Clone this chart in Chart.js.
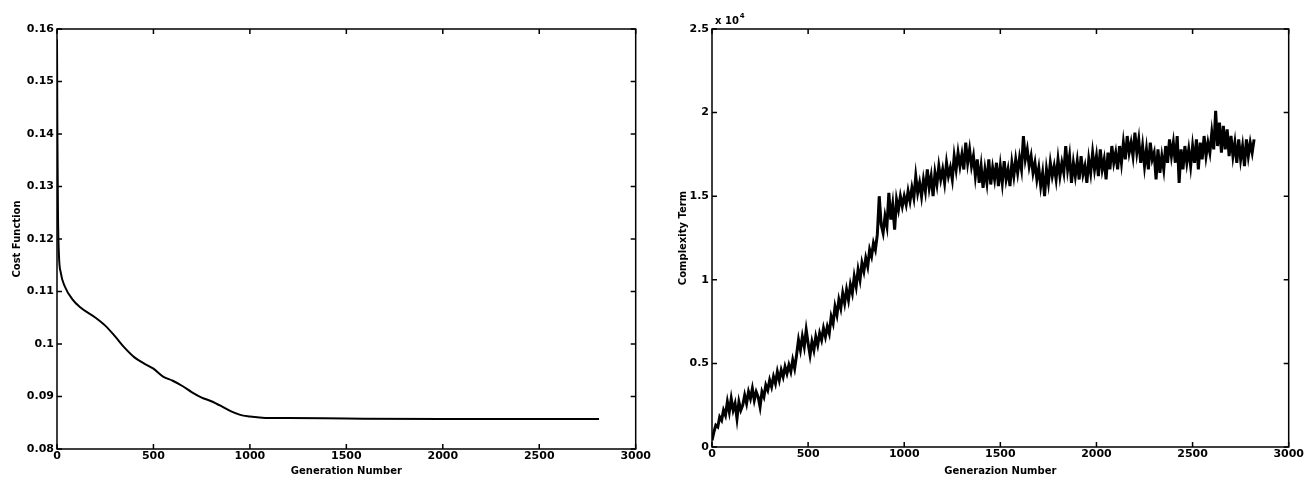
<!DOCTYPE html>
<html>
<head>
<meta charset="utf-8">
<script src="https://cdn.jsdelivr.net/npm/chart.js@4/dist/chart.umd.min.js"></script>
<style>
    body { margin: 0; background: #fff; }
    .wrap { position: absolute; top: 0; height: 478px; }
</style>
</head>
<body>
<div class="wrap" style="left:0;width:652px;"><canvas id="costChart" width="652" height="478"></canvas></div>
<div class="wrap" style="left:652px;width:653px;"><canvas id="complexChart" width="653" height="478"></canvas></div>
<script>
// left panel: cost function vs generation
const costGen = [0, 2, 5, 10, 20, 40, 80, 120, 200, 250, 300, 350, 400, 450, 500, 550, 600, 650, 700, 750, 800, 850, 900, 950, 1000, 1050, 1100, 1200, 1500, 2000, 2500, 2810];
const costVal = [0.158, 0.14, 0.125, 0.117, 0.1135, 0.111, 0.1085, 0.107, 0.105, 0.1035, 0.1015, 0.0993, 0.0975, 0.0963, 0.0953, 0.0938, 0.093, 0.092, 0.0908, 0.0898, 0.0891, 0.0882, 0.0872, 0.0865, 0.0862, 0.086, 0.0859, 0.0859, 0.0858, 0.0857, 0.0857, 0.0857];

// right panel: complexity term (x 10^4), one value every 10 generations
const complexityStep = 10;
const complexityVal = [
    0.04, 0.09, 0.13, 0.12, 0.18, 0.16, 0.22, 0.19, 0.27, 0.21,
    0.29, 0.22, 0.26, 0.17, 0.27, 0.22, 0.25, 0.31, 0.26, 0.33,
    0.29, 0.35, 0.28, 0.33, 0.30, 0.24, 0.33, 0.30, 0.37, 0.34,
    0.40, 0.36, 0.42, 0.38, 0.45, 0.40, 0.46, 0.42, 0.48, 0.44,
    0.49, 0.45, 0.52, 0.47, 0.55, 0.64, 0.58, 0.66, 0.60, 0.70,
    0.62, 0.55, 0.63, 0.58, 0.66, 0.61, 0.68, 0.64, 0.71, 0.66,
    0.72, 0.68, 0.78, 0.74, 0.84, 0.79, 0.88, 0.83, 0.92, 0.86,
    0.94, 0.88, 0.97, 0.92, 1.02, 0.96, 1.06, 1.00, 1.10, 1.05,
    1.13, 1.08, 1.18, 1.14, 1.22, 1.18, 1.27, 1.50, 1.33, 1.28,
    1.38, 1.32, 1.52, 1.36, 1.45, 1.30, 1.48, 1.42, 1.50, 1.44,
    1.50, 1.45, 1.53, 1.47, 1.55, 1.49, 1.62, 1.52, 1.58, 1.50,
    1.60, 1.53, 1.66, 1.55, 1.62, 1.50, 1.64, 1.57, 1.68, 1.60,
    1.66, 1.58, 1.70, 1.62, 1.67, 1.60, 1.74, 1.66, 1.76, 1.68,
    1.75, 1.66, 1.82, 1.70, 1.78, 1.68, 1.74, 1.62, 1.72, 1.58,
    1.68, 1.55, 1.66, 1.58, 1.72, 1.57, 1.67, 1.60, 1.70, 1.56,
    1.68, 1.58, 1.71, 1.60, 1.66, 1.56, 1.70, 1.62, 1.72, 1.64,
    1.73, 1.66, 1.86, 1.72, 1.78, 1.68, 1.74, 1.64, 1.70, 1.60,
    1.67, 1.56, 1.64, 1.50, 1.66, 1.58, 1.70, 1.62, 1.68, 1.60,
    1.72, 1.62, 1.70, 1.64, 1.80, 1.66, 1.74, 1.58, 1.70, 1.62,
    1.71, 1.60, 1.74, 1.63, 1.68, 1.58, 1.72, 1.64, 1.76, 1.66,
    1.74, 1.62, 1.78, 1.66, 1.72, 1.60, 1.76, 1.66, 1.80, 1.70,
    1.76, 1.66, 1.80, 1.70, 1.82, 1.72, 1.86, 1.76, 1.82, 1.74,
    1.88, 1.76, 1.84, 1.70, 1.80, 1.68, 1.78, 1.66, 1.82, 1.72,
    1.76, 1.60, 1.78, 1.64, 1.74, 1.66, 1.80, 1.70, 1.84, 1.74,
    1.82, 1.70, 1.86, 1.58, 1.78, 1.66, 1.80, 1.70, 1.78, 1.68,
    1.80, 1.70, 1.84, 1.66, 1.82, 1.72, 1.86, 1.74, 1.82, 1.76,
    1.88, 1.78, 2.01, 1.80, 1.94, 1.76, 1.92, 1.78, 1.90, 1.74,
    1.86, 1.74, 1.82, 1.70, 1.84, 1.72, 1.80, 1.68, 1.84, 1.74,
    1.82, 1.76, 1.84
];

const xTitle = 'Generation Number';
const xTitleRight = 'Generazion Number';
const costTitle = 'Cost Function';
const complexTitle = 'Complexity Term';

const tickFont = { family: 'DejaVu Sans', size: 11, weight: 'bold' };
const titleFont = { family: 'DejaVu Sans', size: 10, weight: 'bold', lineHeight: 1 };

// matlab style box with inward ticks on all four sides
const boxPlugin = {
    id: 'box',
    afterDatasetsDraw(chart) {
        const ctx = chart.ctx;
        const a = chart.chartArea;
        const len = 5;
        ctx.save();
        ctx.strokeStyle = '#000';
        ctx.lineWidth = 1.5;
        ctx.strokeRect(a.left, a.top, a.right - a.left, a.bottom - a.top);
        ctx.beginPath();
        chart.scales.x.ticks.forEach(function(t) {
            var px = chart.scales.x.getPixelForValue(t.value);
            ctx.moveTo(px, a.bottom); ctx.lineTo(px, a.bottom - len);
            ctx.moveTo(px, a.top); ctx.lineTo(px, a.top + len);
        });
        chart.scales.y.ticks.forEach(function(t) {
            var py = chart.scales.y.getPixelForValue(t.value);
            ctx.moveTo(a.left, py); ctx.lineTo(a.left + len, py);
            ctx.moveTo(a.right, py); ctx.lineTo(a.right - len, py);
        });
        ctx.stroke();
        // exponent label on the complexity plot
        if (chart.options.plugins.box && chart.options.plugins.box.exponent) {
            ctx.fillStyle = '#000';
            ctx.textBaseline = 'alphabetic';
            ctx.font = 'bold 10px "DejaVu Sans"';
            ctx.fillText('x 10', a.left + 3, a.top - 5);
            var w = ctx.measureText('x 10').width;
            ctx.font = 'bold 7px "DejaVu Sans"';
            ctx.fillText(chart.options.plugins.box.exponent, a.left + 4 + w, a.top - 11);
        }
        ctx.restore();
    }
};

function plainNumber(v) { return String(+v.toFixed(2)); }

function makeOptions(yMin, yMax, yStep, yTitle, xTitleText, yWidth, xHeight, yTitlePad) {
    return {
        responsive: false,
        animation: false,
        devicePixelRatio: 1,
        layout: { padding: { top: 29, right: 13, left: 0, bottom: 0 } },
        plugins: { legend: { display: false }, tooltip: { enabled: false } },
        scales: {
            x: {
                type: 'linear', min: 0, max: 3000,
                grid: { display: false, drawTicks: false },
                border: { display: false },
                ticks: { stepSize: 500, color: '#000', font: tickFont, padding: 1, maxRotation: 0, callback: plainNumber },
                title: { display: true, text: xTitleText, color: '#000', font: titleFont, padding: { top: 0, bottom: 2 } },
                afterFit: function(scale) { scale.height = xHeight; }
            },
            y: {
                min: yMin, max: yMax,
                grid: { display: false, drawTicks: false },
                border: { display: false },
                ticks: { stepSize: yStep, color: '#000', font: tickFont, padding: 3, callback: plainNumber },
                title: { display: true, text: yTitle, color: '#000', font: { family: 'DejaVu Sans', size: 10, weight: 'bold', lineHeight: 1 }, padding: { top: yTitlePad, bottom: 0 } },
                afterFit: function(scale) { scale.width = yWidth; }
            }
        }
    };
}

var costPoints = costGen.map(function(g, i) { return { x: g, y: costVal[i] }; });
var complexPoints = complexityVal.map(function(v, i) { return { x: i * complexityStep, y: v }; });

var costOpts = makeOptions(0.08, 0.16, 0.01, costTitle, xTitle, 57, 29, 12.5);
new Chart(document.getElementById('costChart'), {
    type: 'line',
    data: { datasets: [{ data: costPoints, borderColor: '#000', borderWidth: 2, pointRadius: 0, cubicInterpolationMode: 'monotone' }] },
    options: costOpts,
    plugins: [boxPlugin]
});

var complexOpts = makeOptions(0, 2.5, 0.5, complexTitle, xTitleRight, 60, 31, 26.5);
complexOpts.plugins.box = { exponent: '4' };
new Chart(document.getElementById('complexChart'), {
    type: 'line',
    data: { datasets: [{ data: complexPoints, borderColor: '#000', borderWidth: 3, pointRadius: 0, tension: 0 }] },
    options: complexOpts,
    plugins: [boxPlugin]
});
</script>
</body>
</html>
